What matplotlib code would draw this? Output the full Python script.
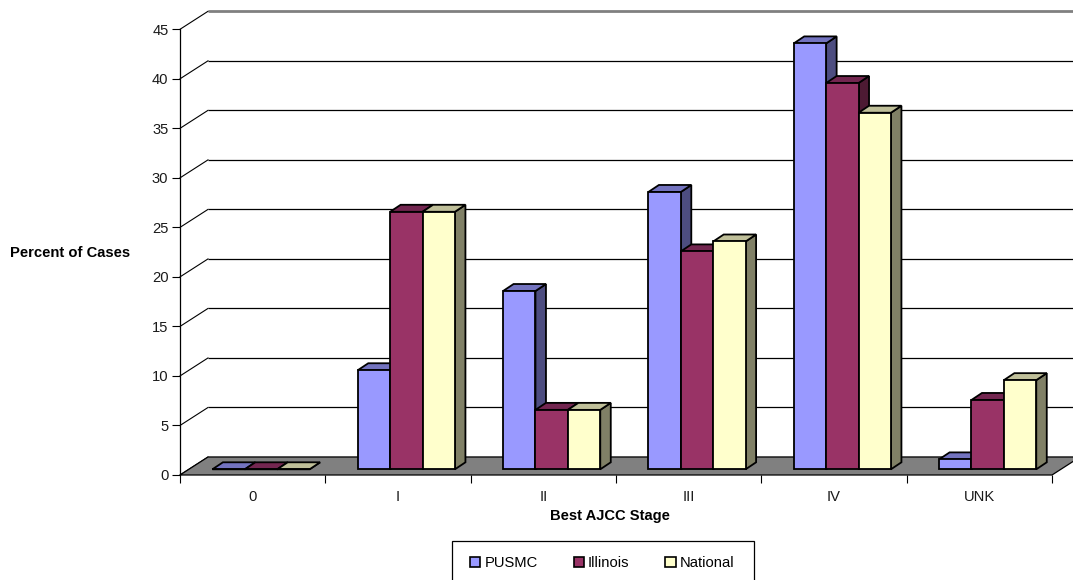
"""Best AJCC stage, percent of cases: Excel style 3-D clustered bars."""
import matplotlib
matplotlib.use('Agg')
import matplotlib.pyplot as plt
from matplotlib.patches import Patch, Polygon, Rectangle

stages = ['0', 'I', 'II', 'III', 'IV', 'UNK']
pusmc = [0, 10, 18, 28, 43, 1]
illinois = [0, 26, 6, 22, 39, 7]
national = [0, 26, 6, 23, 36, 9]
y_ticks = [0, 5, 10, 15, 20, 25, 30, 35, 40, 45]

W, H = 1073, 580
AX_L, AX_R, AX_B, AX_T = 180, 1052, 475, 29.3

plt.rcParams['font.family'] = ['Liberation Sans', 'DejaVu Sans']
plt.rcParams['font.size'] = 10.6

fig = plt.figure(figsize=(W / 100, H / 100), dpi=100)
ax = fig.add_axes([AX_L / W, (H - AX_B) / H, (AX_R - AX_L) / W, (AX_B - AX_T) / H])
ax.set_xlim(0, 6)
ax.set_ylim(0, 45)
ax.patch.set_visible(False)

# px -> data scale, depth offsets are easier to think about in pixels
sx = 6 / (AX_R - AX_L)
sy = 45 / (AX_B - AX_T)
wall_dx, wall_dy = 28 * sx, 18 * sy
base_dy = 5.7 * sy
bar_dx, bar_dy = 10.5 * sx, 7 * sy
bar_w = 32.4 * sx
lw = 1.3

# back wall gridlines and their diagonals
for t in y_ticks:
    c = '#808080' if t == 45 else 'black'
    ax.plot([6 + wall_dx, wall_dx], [t + wall_dy] * 2, color=c, lw=2 if t == 45 else 0.9,
            clip_on=False, zorder=1, solid_capstyle='butt')
    ax.plot([wall_dx, 0], [t + wall_dy, t], color='black', lw=0.8, clip_on=False, zorder=1)

# floor
ax.add_patch(Polygon([(0, 0), (6, 0), (6 + wall_dx, wall_dy), (wall_dx, wall_dy)],
                     closed=True, fc='#808080', ec='black', lw=0.9, clip_on=False, zorder=2))

series = [
    ('PUSMC', pusmc, '#9999FF', '#7373BF', '#4D4D80'),
    ('Illinois', illinois, '#993366', '#732650', '#4D1A33'),
    ('National', national, '#FFFFCC', '#BFBF99', '#808066'),
]

z = 3
for j, (name, vals, front, top, side) in enumerate(series):
    lefts = [i + (32.4 + 32.4 * j) * sx for i in range(len(vals))]
    for x0, v in zip(lefts, vals):
        x1 = x0 + bar_w
        b = base_dy
        ax.add_patch(Polygon([(x1, b), (x1 + bar_dx, b + bar_dy), (x1 + bar_dx, b + v + bar_dy), (x1, b + v)],
                             closed=True, fc=side, ec='black', lw=lw, clip_on=False, zorder=z))
        ax.add_patch(Polygon([(x0, b + v), (x1, b + v), (x1 + bar_dx, b + v + bar_dy), (x0 + bar_dx, b + v + bar_dy)],
                             closed=True, fc=top, ec='black', lw=lw, clip_on=False, zorder=z))
    z += 1
    ax.bar(lefts, vals, width=bar_w, bottom=base_dy, align='edge', color=front,
           edgecolor='black', linewidth=lw, clip_on=False, zorder=z)
    z += 1

for s in ['top', 'right', 'bottom']:
    ax.spines[s].set_visible(False)
ax.spines['left'].set_linewidth(0.9)

ax.set_yticks(y_ticks)
ax.tick_params(axis='y', length=5.8, width=0.8, pad=2.5, labelcolor='#1a1a1a')
ax.set_xticks(range(7))
ax.set_xticklabels([])
ax.tick_params(axis='x', which='major', length=5.8, width=0.8, direction='out')
ax.set_xticks([i + 0.5 for i in range(6)], stages, minor=True)
ax.tick_params(axis='x', which='minor', length=0, pad=10.5, labelcolor='#1a1a1a')
ax.set_axisbelow(False)

ax.set_ylabel('Percent of Cases', rotation=0, fontweight='bold', ha='center', va='center')
ax.yaxis.set_label_coords((70.5 - AX_L) / (AX_R - AX_L), (AX_B - 253) / (AX_B - AX_T))
ax.set_xlabel('Best AJCC Stage', fontweight='bold', ha='center', va='center')
ax.xaxis.set_label_coords((610 - AX_L) / (AX_R - AX_L), (AX_B - 516) / (AX_B - AX_T))

# legend box runs off the bottom of the image, so the frame is drawn by hand
fig.add_artist(Rectangle((452 / W, -10 / H), 302 / W, (H - 541 + 10) / H, transform=fig.transFigure,
                         fc='white', ec='black', lw=0.9))
handles = [Patch(fc=s[2], ec='black', lw=1.2, label=s[0]) for s in series]
fig.legend(handles=handles, ncols=3, frameon=False, loc='center left',
           bbox_to_anchor=(470 / W, (H - 563) / H), borderpad=0, borderaxespad=0,
           handlelength=0.7, handleheight=0.7, handletextpad=0.27, columnspacing=2.45)

fig.savefig('out.png', dpi=100)
